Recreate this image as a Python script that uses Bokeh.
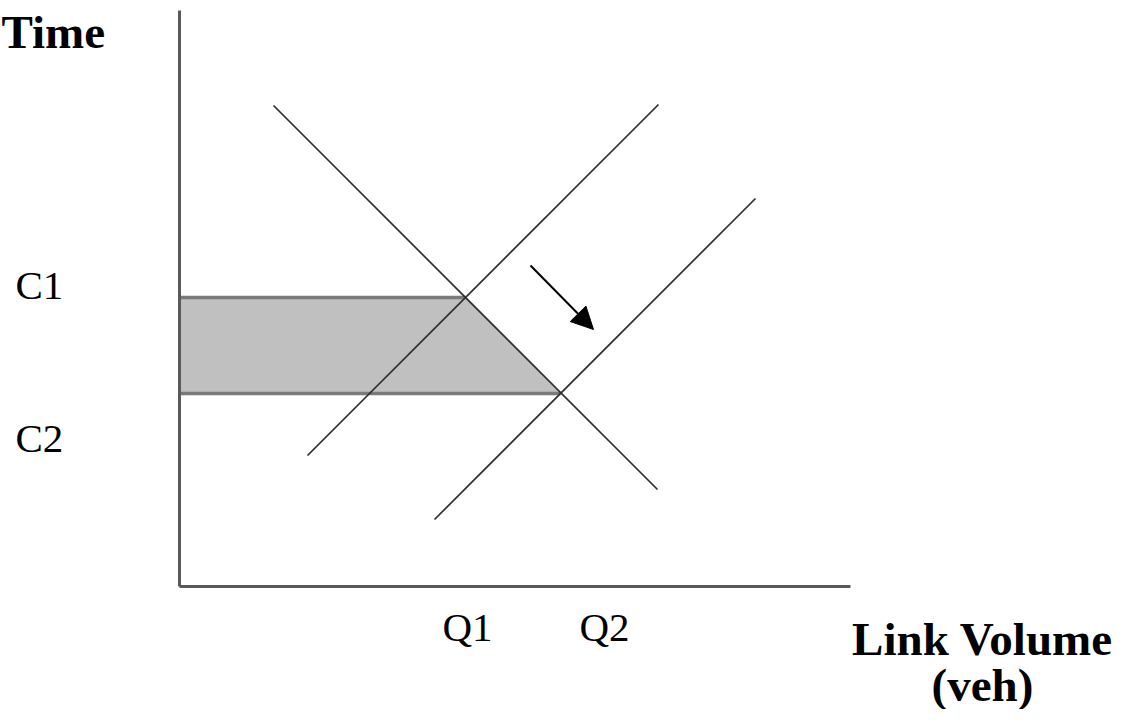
from bokeh.plotting import figure
from bokeh.models import Range1d, Arrow, NormalHead
from bokeh.core.properties import value
from bokeh.embed import file_html
from bokeh.resources import INLINE

# ---- data (volume on x, travel time on y) ----
demand_x = [9.4, 47.8]
demand_y = [48.1, 9.7]
supply1_x = [12.8, 47.9]
supply1_y = [13.1, 48.2]
supply2_x = [25.5, 57.6]
supply2_y = [6.7, 38.8]
Q = [28.6, 38.1]          # equilibrium volumes Q1, Q2
C = [28.9, 19.3]          # equilibrium times C1, C2
q_labels = ["Q1", "Q2"]
c_labels = ["C1", "C2"]
axis_x_max = 67.1
axis_y_max = 57.6
shift_start = [35.1, 32.1]
shift_end = [41.4, 25.7]

W, H = 1114, 709
p = figure(width=W, height=H, output_backend="svg", toolbar_location=None,
           x_range=Range1d(-17.9, 93.5), y_range=Range1d(-12.3, 58.6),
           min_border=0, background_fill_color="white", border_fill_color="white")
p.axis.visible = False
p.grid.visible = False
p.outline_line_color = None

serif = value("Liberation Serif")

# shaded area between C1 and C2
p.patch(x=[0, Q[0], Q[1], 0], y=[C[0], C[0], C[1], C[1]],
        fill_color="#c0c0c0", line_color=None)

# C1 / C2 levels
for q, c in zip(Q, C):
    p.line(x=[0, q], y=[c, c], line_color="#7a7a7a", line_width=3.5)

# demand and supply lines
for xs, ys in [(demand_x, demand_y), (supply1_x, supply1_y), (supply2_x, supply2_y)]:
    p.line(x=xs, y=ys, line_color="#2e2e2e", line_width=1.7)

# axes
p.line(x=[0, 0], y=[0, axis_y_max], line_color="#5a5a5a", line_width=3)
p.line(x=[0, axis_x_max], y=[0, 0], line_color="#5a5a5a", line_width=3)

# shift arrow
p.add_layout(Arrow(x_start=shift_start[0], y_start=shift_start[1],
                   x_end=shift_end[0], y_end=shift_end[1],
                   line_color="black", line_width=2,
                   end=NormalHead(size=22, fill_color="black", line_color="black")))

# level labels
p.text(x=[-16.4, -16.4], y=[30.2, 14.9], text=c_labels, text_font=serif,
       text_font_size="41px", text_color="black", text_baseline="alphabetic",
       text_align="left")
p.text(x=[26.3, 40.0], y=[-4.0, -4.0], text=q_labels, text_font=serif,
       text_font_size="41px", text_color="black", text_baseline="alphabetic",
       text_align="left")

# axis titles
p.text(x=[-17.8], y=[55.5], text=["Time"], text_font=serif, text_font_style="bold",
       text_font_size="47px", text_color="black", text_baseline="alphabetic",
       text_align="left")
p.text(x=[80.3, 80.3], y=[-5.2, -9.8], text=["Link Volume", "(veh)"], text_font=serif,
       text_font_style="bold", text_font_size="47px", text_color="black",
       text_baseline="alphabetic", text_align="center")

open("out.html", "w").write(file_html(p, INLINE))
